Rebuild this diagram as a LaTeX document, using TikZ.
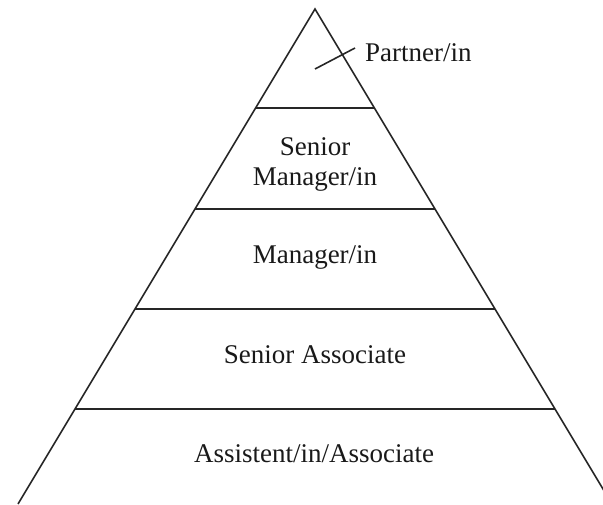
\documentclass[tikz,border=0pt]{standalone}
\usepackage{fontspec}
\setmainfont{Liberation Serif}
\begin{document}
\begin{tikzpicture}[x=1pt,y=-1pt,
  edge/.style={line width=1.6pt,draw=black!85},
  label/.style={font=\fontsize{27}{30}\selectfont,inner sep=0pt,anchor=base,align=center,text=black!90}]
\useasboundingbox (0,0) rectangle (603,504);
\clip (0,0) rectangle (603,504);
% pyramid outline
\coordinate (apex) at (315,9);
\coordinate (bl) at (315-0.6*495,504);
\coordinate (br) at (315+0.6*495,504);
\draw[edge] (bl) -- (apex) -- (br);
% band dividers
\foreach \yy in {108,209,309,409}{
  \draw[edge] ({315-0.6*(\yy-9)},\yy) -- ({315+0.6*(\yy-9)},\yy);
}
% labels
\node[label,anchor=base west] (partner) at (365,61) {Partner/in};
\node[label] (senior) at (315,155) {Senior};
\node[label] (seniormgr) at (315,185) {Manager/in};
\node[label] (manager) at (315,263) {Manager/in};
\node[label] (sassoc) at (315,363) {Senior Associate};
\node[label] (assist) at (314,462) {Assistent/in/Associate};
% leader line
\coordinate (pin) at (315,69);
\coordinate (pinend) at (355,48);
\draw[edge] (pin) -- (pinend);
\end{tikzpicture}
\end{document}
